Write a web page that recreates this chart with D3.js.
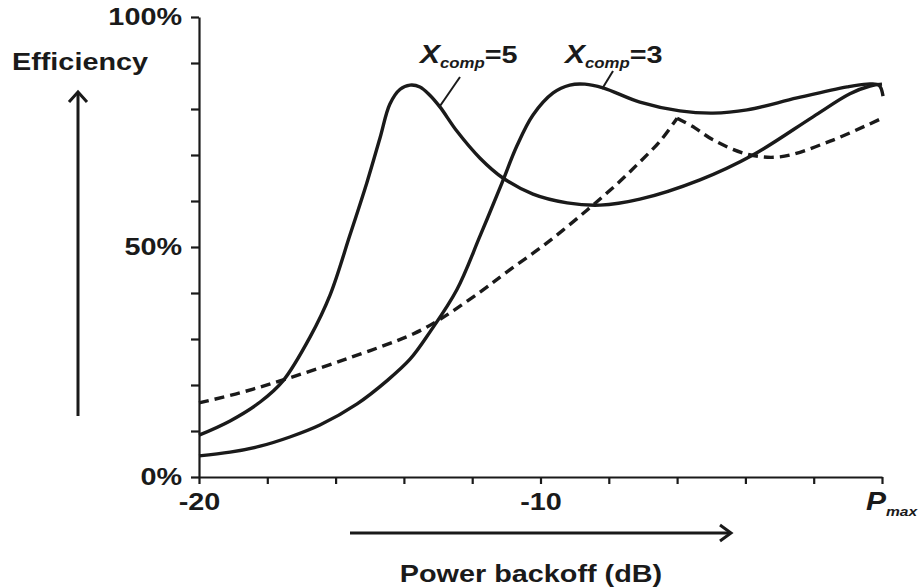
<!DOCTYPE html>
<html>
<head>
<meta charset="utf-8">
<script src="https://cdn.jsdelivr.net/npm/d3@7.9.0/dist/d3.min.js"></script>
<style>
  body { margin: 0; background: #fff; }
  svg { display: block; font-family: "Liberation Sans", Arial, sans-serif; }
  .axis path, .axis line { stroke: #1a1a1a; stroke-width: 2.2; }
  .axis text { font-size: 24px; font-weight: bold; fill: #1a1a1a; font-family: "Liberation Sans", Arial, sans-serif; }
  .curve { fill: none; stroke: #1a1a1a; stroke-width: 3.4; stroke-linejoin: round; }
</style>
</head>
<body>
<svg id="chart" width="920" height="588"></svg>
<script>
// power backoff in dB, efficiency in %
const comp5X = [-20, -19.09, -18.21, -17.54, -16.75, -16.16, -15.58, -15.08, -14.70, -14.41, -14.11, -13.82, -13.53, -13.24, -12.94, -12.45, -11.77, -11.10, -10.22, -9.22, -8.26, -7.09, -5.33, -3.78, -2.02, -0.94, -0.35, 0];
const comp5Y = [9.1, 12.2, 16.3, 20.9, 30.4, 39.6, 52.6, 64.1, 73.7, 81.1, 84.3, 85.2, 84.8, 83.0, 80.4, 75.2, 69.3, 65.0, 61.5, 59.6, 59.1, 60.4, 64.6, 70.0, 78.3, 83.3, 85.0, 85.4];

const comp3X = [-20, -19.09, -18.21, -17.34, -16.46, -15.37, -14.50, -13.82, -13.24, -12.45, -11.77, -11.13, -10.69, -10.22, -9.63, -9.14, -8.70, -8.17, -7.09, -5.92, -4.95, -3.95, -2.49, -1.02, -0.44, -0.09, 0.03];
const comp3Y = [4.6, 5.4, 6.7, 8.7, 11.3, 15.9, 20.9, 25.6, 31.5, 40.7, 52.4, 63.9, 72.0, 78.7, 83.5, 85.2, 85.4, 84.6, 81.5, 79.6, 79.1, 79.8, 82.4, 84.8, 85.4, 85.2, 82.8];

const dashX = [-20, -18.80, -17.63, -15.67, -13.73, -12.94, -11.77, -10.98, -9.81, -8.64, -7.76, -7.09, -6.50, -6.00, -5.48, -4.95, -3.95, -2.99, -1.52, 0];
const dashY = [16.1, 18.3, 20.9, 25.7, 31.1, 34.3, 40.2, 44.6, 50.9, 58.0, 63.7, 68.5, 73.0, 78.0, 75.9, 73.3, 70.2, 69.6, 73.0, 78.0];
const dashPeak = 13;

const xTicks = d3.range(-20, 1, 2);
const xLabels = {"-20": "-20", "-10": "-10"};
const yTicks = d3.range(0, 101, 10);
const yLabels = {0: "0%", 50: "50%", 100: "100%"};

const svg = d3.select('#chart');
const x = d3.scaleLinear().domain([-20, 0]).range([199, 882]);
const y = d3.scaleLinear().domain([0, 100]).range([477, 17]);

// the original lettering is a bit wide, so stretch text around its anchor
const SX = 1.2;
function stretch(sel) {
    sel.each(function () {
        const ax = +(this.getAttribute('x') || 0);
        d3.select(this).attr('transform', `translate(${ax},0) scale(${SX},1) translate(${-ax},0)`);
    });
}

// axes
svg.append('g')
    .attr('class', 'axis')
    .attr('transform', 'translate(199,0)')
    .call(d3.axisLeft(y).tickValues(yTicks).tickSize(8).tickSizeOuter(0).tickPadding(9)
        .tickFormat(d => yLabels[d] || ''))
    .selectAll('text').call(stretch);

svg.append('g')
    .attr('class', 'axis')
    .attr('transform', 'translate(0,477)')
    .call(d3.axisBottom(x).tickValues(xTicks).tickSize(7).tickSizeOuter(0).tickPadding(9)
        .tickFormat(d => xLabels[d] || ''))
    .selectAll('text').call(stretch);

// P_max label at the last tick
const pm = svg.append('text')
    .attr('x', 866).attr('y', 510)
    .attr('font-size', 25).attr('font-weight', 'bold').attr('font-style', 'italic').attr('fill', '#1a1a1a');
pm.append('tspan').text('P');
pm.append('tspan').attr('font-size', 13).attr('dy', 6).text('max');
pm.call(stretch);

// curves
const toPts = (xs, ys) => xs.map((v, i) => [x(v), y(ys[i])]);
const line = d3.line().curve(d3.curveCatmullRom.alpha(0.5));

svg.append('path').attr('class', 'curve').attr('d', line(toPts(comp5X, comp5Y)));
svg.append('path').attr('class', 'curve').attr('d', line(toPts(comp3X, comp3Y)));

const dashPts = toPts(dashX, dashY);
svg.append('path').attr('class', 'curve').attr('stroke-dasharray', '10,6')
    .attr('d', line(dashPts.slice(0, dashPeak + 1)));
svg.append('path').attr('class', 'curve').attr('stroke-dasharray', '10,6')
    .attr('d', line(dashPts.slice(dashPeak)));

// series labels with leader lines
function compLabel(px, py, val) {
    const t = svg.append('text').attr('x', px).attr('y', py)
        .attr('font-weight', 'bold').attr('fill', '#1a1a1a');
    t.append('tspan').attr('font-size', 25).attr('font-style', 'italic').text('X');
    t.append('tspan').attr('font-size', 14).attr('font-style', 'italic').attr('dy', 5).text('comp');
    t.append('tspan').attr('font-size', 24).attr('dy', -5).text('=' + val);
    t.call(stretch);
}
compLabel(420, 63, 5);
compLabel(565, 63, 3);

svg.append('line').attr('x1', 460).attr('y1', 77).attr('x2', 440).attr('y2', 106)
    .attr('stroke', '#1a1a1a').attr('stroke-width', 2);
svg.append('line').attr('x1', 613).attr('y1', 71).attr('x2', 602).attr('y2', 89)
    .attr('stroke', '#1a1a1a').attr('stroke-width', 2);

// axis titles and arrows
svg.append('text').attr('x', 12).attr('y', 70)
    .attr('font-size', 24).attr('font-weight', 'bold').attr('fill', '#1a1a1a')
    .text('Efficiency').call(stretch);

svg.append('text').attr('x', 531).attr('y', 582).attr('text-anchor', 'middle')
    .attr('font-size', 24).attr('font-weight', 'bold').attr('fill', '#1a1a1a')
    .text('Power backoff (dB)').call(stretch);

const arrow = svg.append('g').attr('stroke', '#1a1a1a').attr('stroke-width', 3).attr('fill', 'none');
arrow.append('line').attr('x1', 78).attr('y1', 416).attr('x2', 78).attr('y2', 92);
arrow.append('polyline').attr('points', '69,102 78,92 87,102');
arrow.append('line').attr('x1', 350).attr('y1', 533).attr('x2', 731).attr('y2', 533);
arrow.append('polyline').attr('points', '720,525 731,533 720,541');
</script>
</body>
</html>
